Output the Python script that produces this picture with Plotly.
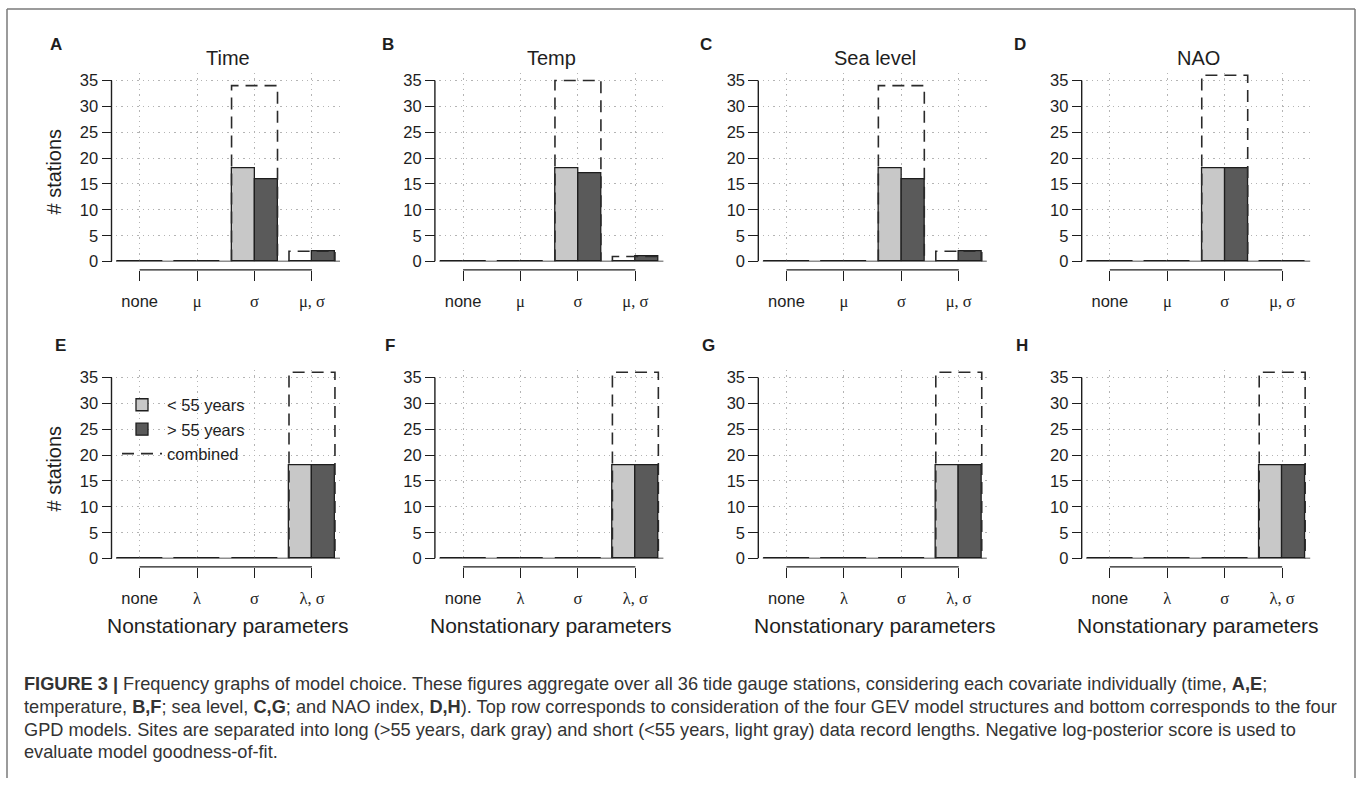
import plotly.graph_objects as go

W, H = 1357, 787

# ---------------- data ----------------
tick_labels_gev = ["none", "μ", "σ", "μ, σ"]
tick_labels_gpd = ["none", "λ", "σ", "λ, σ"]
covariates = ["Time", "Temp", "Sea level", "NAO"]
panel_letters = ["A", "B", "C", "D", "E", "F", "G", "H"]

# GEV (top row): short (<55 years) and long (>55 years) record stations
short_time_gev = [0, 0, 18, 0]
long_time_gev = [0, 0, 16, 2]
short_temp_gev = [0, 0, 18, 0]
long_temp_gev = [0, 0, 17, 1]
short_sea_gev = [0, 0, 18, 0]
long_sea_gev = [0, 0, 16, 2]
short_nao_gev = [0, 0, 18, 0]
long_nao_gev = [0, 0, 18, 0]

# GPD (bottom row)
short_time_gpd = [0, 0, 0, 18]
long_time_gpd = [0, 0, 0, 18]
short_temp_gpd = [0, 0, 0, 18]
long_temp_gpd = [0, 0, 0, 18]
short_sea_gpd = [0, 0, 0, 18]
long_sea_gpd = [0, 0, 0, 18]
short_nao_gpd = [0, 0, 0, 18]
long_nao_gpd = [0, 0, 0, 18]

y_ticks = [0, 5, 10, 15, 20, 25, 30, 35]

panels = [
    (short_time_gev, long_time_gev, tick_labels_gev),
    (short_temp_gev, long_temp_gev, tick_labels_gev),
    (short_sea_gev, long_sea_gev, tick_labels_gev),
    (short_nao_gev, long_nao_gev, tick_labels_gev),
    (short_time_gpd, long_time_gpd, tick_labels_gpd),
    (short_temp_gpd, long_temp_gpd, tick_labels_gpd),
    (short_sea_gpd, long_sea_gpd, tick_labels_gpd),
    (short_nao_gpd, long_nao_gpd, tick_labels_gpd),
]

# ---------------- style ----------------
FONT = "Liberation Sans, Arial, Helvetica, sans-serif"
SERIF = "Liberation Serif"
LIGHT = "#c8c8c8"
DARK = "#5a5a5a"
INK = "#1e1e1e"
GRID = "#b4b4b4"

# R barplot layout: bars of width 1, groups of 2, 0.5 space between groups
group_centers = [1.5 + 2.5 * i for i in range(4)]
x_range = [0.47, 10.22]
y_range = [0, 36.4]

col_left_px = [116 + 323.4 * c for c in range(4)]
plot_w_px = 224
row_zero_px = [263.3, 564.5]
px_per_unit = 5.25
row_top_px = [z - y_range[1] * px_per_unit for z in row_zero_px]

letter_pos = [(56, 43), (388, 43), (706, 43), (1020, 43),
              (60, 348), (390, 348), (708, 348), (1022, 348)]

fig = go.Figure()
layout = dict(
    width=W, height=H,
    margin=dict(l=0, r=0, t=0, b=0),
    paper_bgcolor="white", plot_bgcolor="white",
    font=dict(family=FONT, color=INK, size=16),
    bargap=0, barmode="overlay",
    showlegend=True,
)
shapes = []
annotations = []

for k, (short, long_, labels) in enumerate(panels):
    row, col = divmod(k, 4)
    sfx = "" if k == 0 else str(k + 1)
    xa, ya = "x" + sfx, "y" + sfx
    combined = [a + b for a, b in zip(short, long_)]
    show = (k == 4)

    fig.add_trace(go.Bar(
        x=[c - 0.5 for c in group_centers], y=short, width=1,
        marker=dict(color=LIGHT, line=dict(color=INK, width=1.3)),
        name="&lt; 55 years", legendgroup="s", showlegend=show,
        xaxis=xa, yaxis=ya, hoverinfo="skip"))
    fig.add_trace(go.Bar(
        x=[c + 0.5 for c in group_centers], y=long_, width=1,
        marker=dict(color=DARK, line=dict(color=INK, width=1.3)),
        name="&gt; 55 years", legendgroup="l", showlegend=show,
        xaxis=xa, yaxis=ya, hoverinfo="skip"))

    ox, oy = [], []
    for c, v in zip(group_centers, combined):
        if v > 0:
            ox += [c - 1, c - 1, c + 1, c + 1, None]
            oy += [0, v, v, 0, None]
    fig.add_trace(go.Scatter(
        x=ox, y=oy, mode="lines", cliponaxis=False,
        line=dict(color="#2a2a2a", width=1.6, dash="12px,7px"),
        name="combined", legendgroup="c", showlegend=show,
        xaxis=xa, yaxis=ya, hoverinfo="skip"))

    left = col_left_px[col]
    dom_x = [left / W, (left + plot_w_px) / W]
    dom_y = [1 - row_zero_px[row] / H, 1 - row_top_px[row] / H]
    yaxis_pos = (left - 4.5) / W
    xaxis_pos = 1 - (row_zero_px[row] + 8.4) / H

    ticktext = []
    for t in labels:
        if t == "none":
            ticktext.append(t)
        else:
            ticktext.append('<span style="font-family:%s">%s</span>' % (SERIF, t))

    layout["xaxis" + sfx] = dict(
        domain=dom_x, range=x_range, anchor="free", position=xaxis_pos,
        tickmode="array", tickvals=group_centers, ticktext=ticktext,
        ticks="outside", ticklen=10, tickwidth=1.3, tickcolor=INK,
        ticklabelstandoff=6,
        tickfont=dict(size=16.5, family=FONT, color=INK),
        showline=False, zeroline=False,
        showgrid=True, gridcolor=GRID, griddash="1.3px,4px", gridwidth=1,
        fixedrange=True)
    layout["yaxis" + sfx] = dict(
        domain=dom_y, range=y_range, anchor="free", position=yaxis_pos,
        tickmode="array", tickvals=y_ticks,
        ticks="outside", ticklen=10, tickwidth=1.3, tickcolor=INK,
        tickfont=dict(size=16.5, family=FONT, color=INK),
        showline=False, zeroline=False,
        showgrid=True, gridcolor=GRID, griddash="1.3px,4px", gridwidth=1,
        fixedrange=True)

    # R-style axis lines (only spanning the tick range) and zero baseline
    shapes.append(dict(type="line", xref="paper", yref=ya,
                       x0=yaxis_pos, x1=yaxis_pos, y0=y_ticks[0], y1=y_ticks[-1],
                       line=dict(color=INK, width=1.4)))
    shapes.append(dict(type="line", xref=xa, yref="paper",
                       x0=group_centers[0], x1=group_centers[-1],
                       y0=xaxis_pos, y1=xaxis_pos,
                       line=dict(color=INK, width=1.4)))
    shapes.append(dict(type="line", xref=xa + " domain", yref=ya,
                       x0=0, x1=1, y0=0, y1=0,
                       line=dict(color=INK, width=1.6)))

    # panel letter
    lx, ly = letter_pos[k]
    annotations.append(dict(text="<b>%s</b>" % panel_letters[k], xref="paper", yref="paper",
                            x=lx / W, y=1 - ly / H, showarrow=False,
                            xanchor="center", yanchor="middle",
                            font=dict(size=17, family=FONT, color=INK)))
    cx = (left + plot_w_px / 2) / W
    if row == 0:
        annotations.append(dict(text=covariates[col], xref="paper", yref="paper",
                                x=cx, y=1 - 57 / H, showarrow=False,
                                xanchor="center", yanchor="middle",
                                font=dict(size=20, family=FONT, color=INK)))
    else:
        annotations.append(dict(text="Nonstationary parameters", xref="paper", yref="paper",
                                x=cx, y=1 - 632 / H, showarrow=False,
                                xanchor="center", yanchor="middle",
                                font=dict(size=21, family=FONT, color=INK)))
    if col == 0:
        annotations.append(dict(text="# stations", xref="paper", yref="paper",
                                x=54.5 / W, y=1 - (row_zero_px[row] - 17.5 * px_per_unit) / H,
                                showarrow=False, textangle=-90,
                                xanchor="center", yanchor="middle",
                                font=dict(size=20, family=FONT, color=INK)))

# caption
caption_lines = [
    "<b>FIGURE 3 |</b> Frequency graphs of model choice. These figures aggregate over all 36 tide gauge stations, considering each covariate individually (time, <b>A,E</b>;",
    "temperature, <b>B,F</b>; sea level, <b>C,G</b>; and NAO index, <b>D,H</b>). Top row corresponds to consideration of the four GEV model structures and bottom corresponds to the four",
    "GPD models. Sites are separated into long (&gt;55 years, dark gray) and short (&lt;55 years, light gray) data record lengths. Negative log-posterior score is used to",
    "evaluate model goodness-of-fit.",
]
caption_y = [692, 715, 738, 761]
for txt, cy in zip(caption_lines, caption_y):
    annotations.append(dict(text=txt, xref="paper", yref="paper",
                            x=22 / W, y=1 - cy / H, showarrow=False,
                            xanchor="left", yanchor="middle", align="left",
                            font=dict(size=18.2, family=FONT, color="#333333")))

# outer frame
frame = "#7a7a7a"
shapes += [
    dict(type="line", xref="paper", yref="paper", x0=7 / W, x1=1355 / W,
         y0=1 - 7 / H, y1=1 - 7 / H, line=dict(color=frame, width=1.5)),
    dict(type="line", xref="paper", yref="paper", x0=7 / W, x1=7 / W,
         y0=1 - 7 / H, y1=0, line=dict(color=frame, width=1.5)),
    dict(type="line", xref="paper", yref="paper", x0=1355 / W, x1=1355 / W,
         y0=1 - 7 / H, y1=0, line=dict(color=frame, width=1.5)),
]

layout["shapes"] = shapes
layout["annotations"] = annotations
layout["legend"] = dict(x=117 / W, y=1 - 391 / H, xanchor="left", yanchor="top",
                        bgcolor="rgba(0,0,0,0)", borderwidth=0,
                        font=dict(size=16.5, family=FONT, color=INK),
                        itemwidth=40, tracegroupgap=0, traceorder="normal")
fig.update_layout(**layout)
fig.write_html("out.html", config={"displayModeBar": False})
